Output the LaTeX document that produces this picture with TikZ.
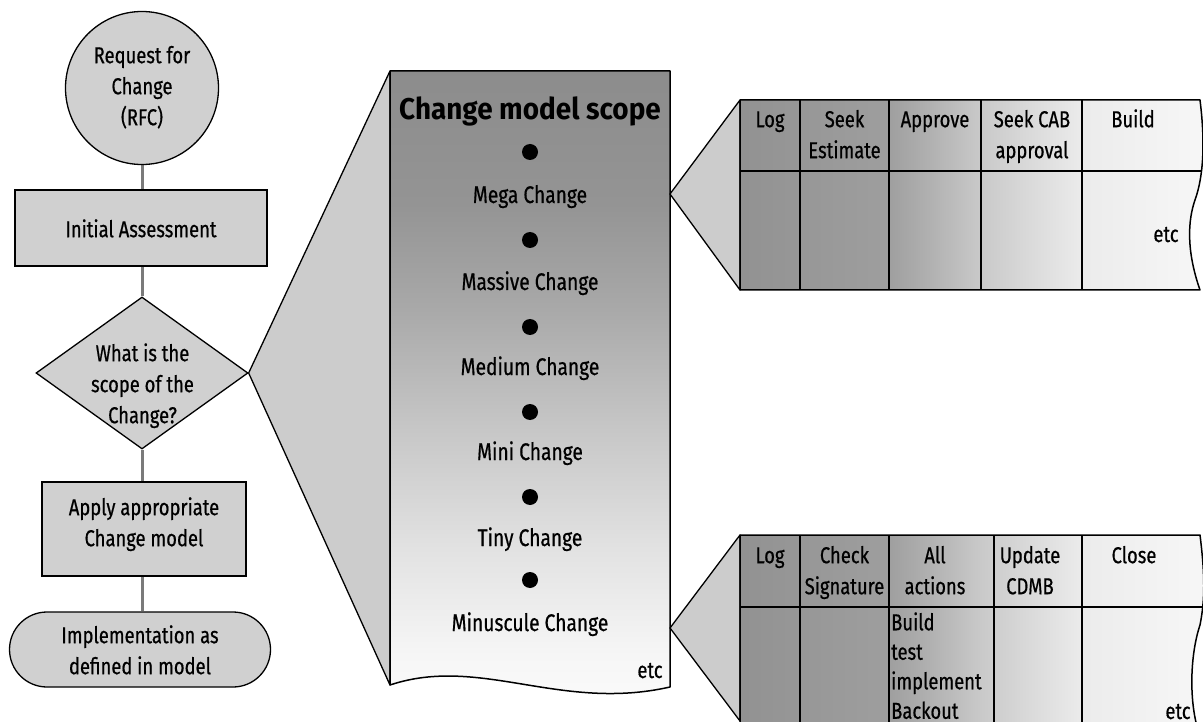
\documentclass[tikz,border=0pt]{standalone}
\usepackage{fontspec}
\setmainfont{Fira Sans}[FakeStretch=0.8,FakeBold=0.6]
\newfontfamily\titlefamily{Fira Sans}[FakeStretch=0.93]
\usetikzlibrary{shapes.geometric,shapes.misc,backgrounds}

\definecolor{boxfill}{HTML}{D0D0D0}
\definecolor{wedgefill}{HTML}{CCCCCC}
\definecolor{linkgray}{HTML}{7A7A7A}

% vertical fade of the scope column: dark at the top, nearly white at the bottom
\pgfdeclareverticalshading{scopefade}{100bp}{%
  color(0bp)=(black!1.5); color(25bp)=(black!1.5);
  color(29.4bp)=(black!3.5); color(37.4bp)=(black!11);
  color(47bp)=(black!22); color(56.6bp)=(black!34);
  color(64.7bp)=(black!42); color(75bp)=(black!45);
  color(100bp)=(black!45)}
% horizontal fade of the step tables: dark on the left, light on the right
\pgfdeclarehorizontalshading{stepfade}{100bp}{%
  color(0bp)=(black!43); color(25bp)=(black!43);
  color(31.4bp)=(black!41); color(41bp)=(black!38);
  color(45.9bp)=(black!30); color(50.9bp)=(black!21);
  color(61.7bp)=(black!7.5); color(75bp)=(black!3);
  color(100bp)=(black!3)}

\newcommand\flowsize{\fontsize{23}{31}\selectfont}
\newcommand\labelsize{\fontsize{24}{30}\selectfont}
\newcommand\titlesize{\titlefamily\fontsize{30}{36}\selectfont\bfseries}
\newcommand\listsize{\fontsize{23}{29.5}\selectfont}

\begin{document}
\begin{tikzpicture}[x=1pt,y=-1pt,
  flowbox/.style={draw=black,line width=1.3pt,fill=boxfill,inner sep=0pt},
  link/.style={draw=linkgray,line width=3pt},
  wedge/.style={fill=wedgefill,draw=black,line width=1.3pt,line join=round},
  outline/.style={draw=black,line width=1.5pt,line join=round},
  gridline/.style={draw=black,line width=1.3pt},
  flowtext/.style={inner sep=0pt,anchor=north,align=center,font=\flowsize},
  listtext/.style={inner sep=0pt,anchor=north west,align=left,font=\listsize},
  scopelabel/.style={inner sep=0pt,anchor=base,font=\labelsize},
  dot/.style={circle,fill=black,inner sep=0pt,minimum size=16pt},
  etcnote/.style={inner sep=0pt,anchor=base,font=\flowsize}]
\useasboundingbox (0,0) rectangle (1203,722);
\clip (0,0) rectangle (1203,722);

% ---------------- flow chart on the left ----------------
\coordinate (spine) at (142,0);
\node[flowbox,circle,minimum size=153pt] (rfc) at (142,88) {};
\node[flowbox,minimum width=252pt,minimum height=76pt] (init) at (141,228) {};
\node[flowbox,diamond,minimum width=212pt,minimum height=152pt] (scope) at (142,373) {};
\node[flowbox,minimum width=204pt,minimum height=94pt] (apply) at (144,529) {};
\node[flowbox,rounded rectangle,minimum width=261pt,minimum height=75pt] (impl) at (140,649.5) {};

\begin{pgfonlayer}{background}
  \draw[link] (rfc.south) -- (spine |- init.north);
  \draw[link] (spine |- init.south) -- (scope.north);
  \draw[link] (scope.south) -- (spine |- apply.north);
  \draw[link] (spine |- apply.south) -- (spine |- impl.north);
\end{pgfonlayer}

\node[flowtext] (rfcT) at (142,41.3) {\strut Request for\\Change\\(RFC)};
\node[flowtext] (initT) at (141,215.3) {\strut Initial Assessment};
\node[flowtext] (scopeT) at (142.5,339.3) {\strut What is the\\scope of the\\Change?};
\node[flowtext] (applyT) at (144,493.3) {\strut Apply appropriate\\Change model};
\node[flowtext] (implT) at (140,621.3) {\strut Implementation as\\defined in model};

% ---------------- change model scope column ----------------
\coordinate (colNW) at (390,71);
\coordinate (colNE) at (670,71);
\coordinate (colSE) at (670,687);
\coordinate (colSW) at (390,685);
\coordinate (tipA) at (670,194);
\coordinate (tipB) at (670,628);

\filldraw[wedge] (scope.east) -- (colNW) -- (colSW) -- cycle;
\shadedraw[shading=scopefade,outline] (colNW) -- (colNE) -- (colSE)
  .. controls (560,712) and (480,655) .. (colSW) -- cycle;

\node[inner sep=0pt,anchor=base,font=\titlesize] (title) at (530,120) {Change model scope};
\node[dot] (d1) at (530,152) {};
\node[scopelabel] (mega) at (530,203) {Mega Change};
\node[dot] (d2) at (530,240) {};
\node[scopelabel] (massive) at (530,290) {Massive Change};
\node[dot] (d3) at (530,327) {};
\node[scopelabel] (medium) at (530,375) {Medium Change};
\node[dot] (d4) at (530,412) {};
\node[scopelabel] (mini) at (530,460) {Mini Change};
\node[dot] (d5) at (530,497) {};
\node[scopelabel] (tiny) at (530,546) {Tiny Change};
\node[dot] (d6) at (530,580) {};
\node[scopelabel] (minuscule) at (530,631) {Minuscule Change};
\node[etcnote] (etcC) at (650,678) {etc};

% ---------------- upper step table ----------------
\coordinate (tAnw) at (740,100);
\coordinate (tAsw) at (740,290);
\filldraw[wedge] (tipA) -- (tAnw) -- (tAsw) -- cycle;
\def\tableA{(tAnw) -- (1200,100) .. controls (1205,140) and (1204,175) .. (1195,200)
  .. controls (1188,220) and (1186,250) .. (1200,290) -- (tAsw) -- cycle}
\begin{scope}
  \clip \tableA;
  \shade[shading=stepfade] (735,95) rectangle (1210,295);
  \draw[gridline] (735,171) -- (1210,171);
  \foreach \xx in {800,889,981,1082} \draw[gridline] (\xx,95) -- (\xx,295);
\end{scope}
\draw[outline] \tableA;

\node[flowtext] (aLog) at (770,105.3) {\strut Log};
\node[flowtext] (aEst) at (844.5,105.3) {\strut Seek\\Estimate};
\node[flowtext] (aApp) at (935,105.3) {\strut Approve};
\node[flowtext] (aCab) at (1032,105.3) {\strut Seek CAB\\approval};
\node[flowtext] (aBld) at (1133,105.3) {\strut Build};
\node[etcnote] (etcA) at (1166,242) {etc};

% ---------------- lower step table ----------------
\coordinate (tBnw) at (740,535);
\coordinate (tBsw) at (740,721);
\filldraw[wedge] (tipB) -- (tBnw) -- (tBsw) -- cycle;
\def\tableB{(tBnw) -- (1200,535) .. controls (1205,575) and (1205,600) .. (1200,625)
  .. controls (1190,655) and (1189,700) .. (1198,730) -- (740,730) -- cycle}
\begin{scope}
  \clip \tableB;
  \shade[shading=stepfade] (735,530) rectangle (1210,735);
  \draw[gridline] (735,607) -- (1210,607);
  \foreach \xx in {800,889,994,1082} \draw[gridline] (\xx,530) -- (\xx,735);
\end{scope}
\draw[outline] \tableB;

\node[flowtext] (bLog) at (770,541.3) {\strut Log};
\node[flowtext] (bSig) at (844.5,541.3) {\strut Check\\Signature};
\node[flowtext] (bAll) at (935,541.3) {\strut All\\actions};
\node[flowtext] (bUpd) at (1030,541.3) {\strut Update\\CDMB};
\node[flowtext] (bCls) at (1134,541.3) {\strut Close};
\node[listtext] (bList) at (891,609.4) {\strut Build\\test\\implement\\Backout};
\node[etcnote] (etcB) at (1178,719) {etc};
\end{tikzpicture}
\end{document}
